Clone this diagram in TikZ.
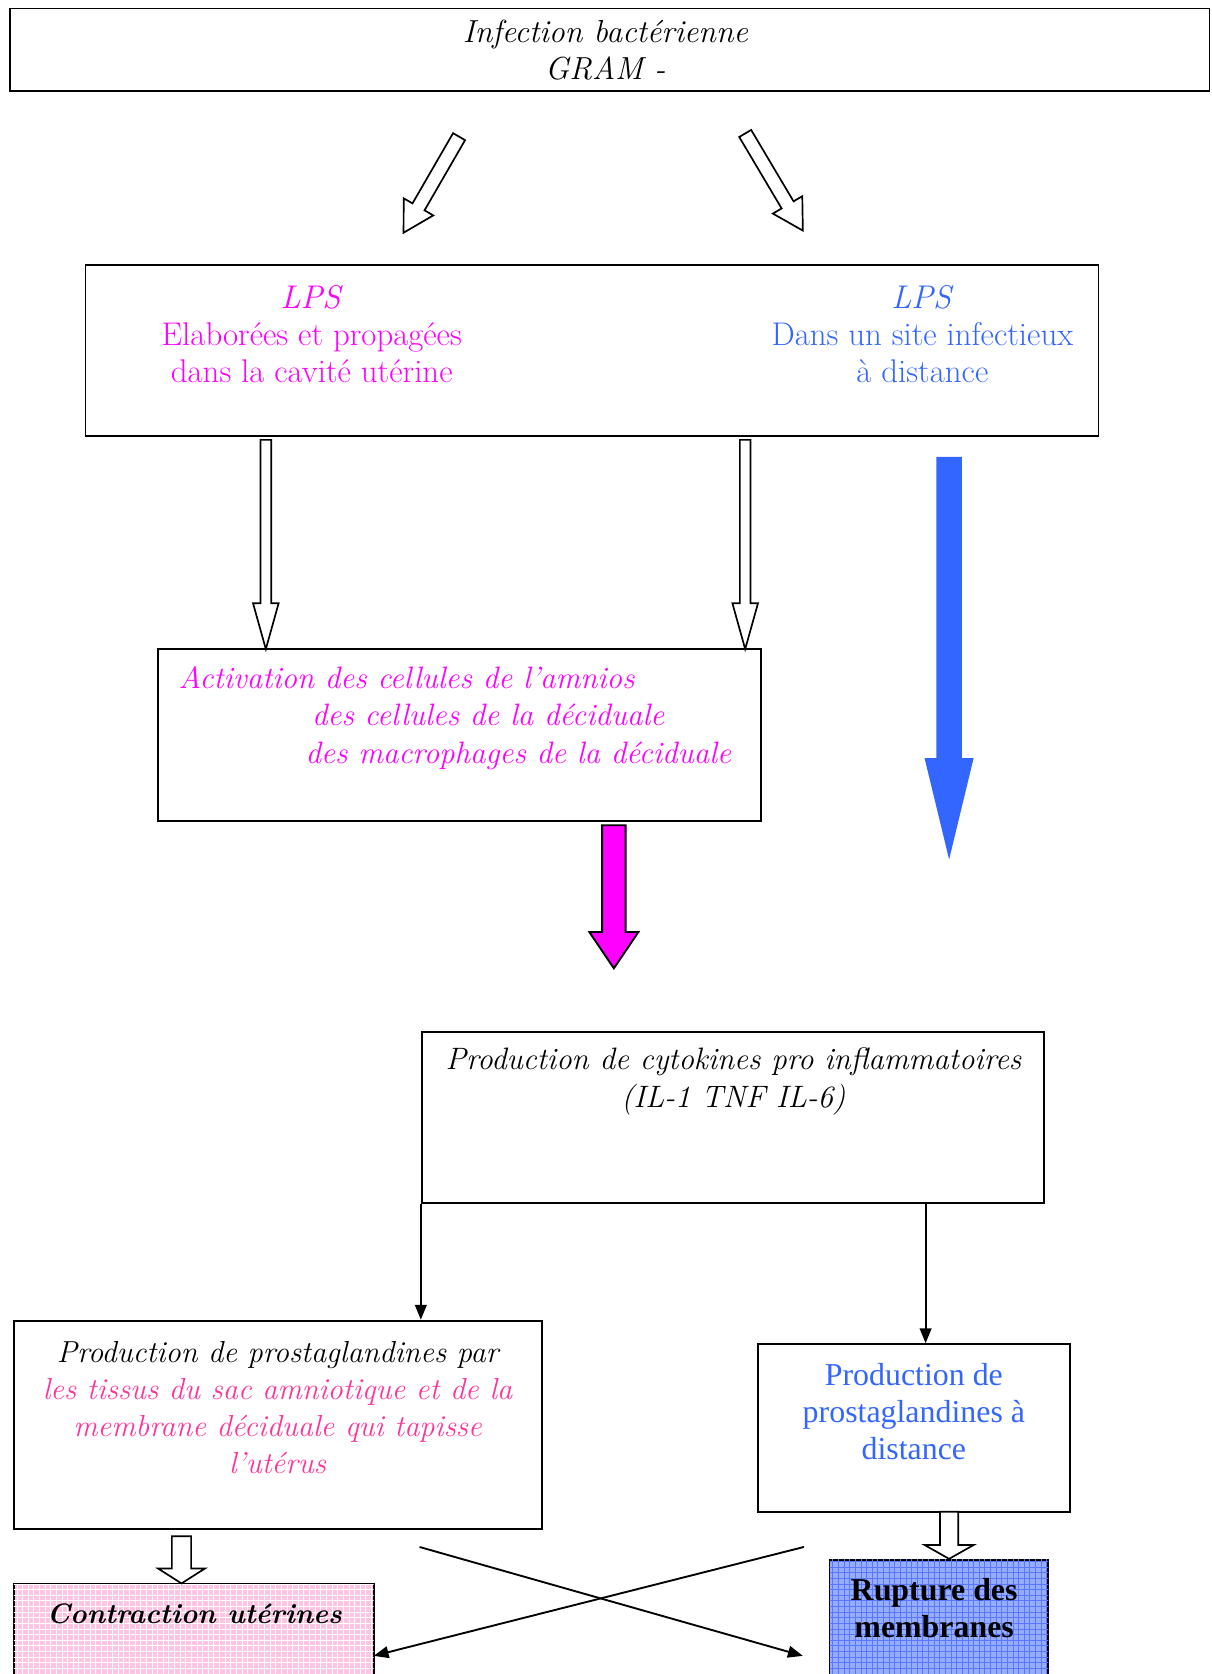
\documentclass[tikz,border=0pt]{standalone}
\usepackage{fontspec}
\newfontfamily\timesfont{Liberation Serif}
\usepackage{tikz}
\usetikzlibrary{arrows,arrows.meta,shapes,calc,patterns}

\definecolor{lpsmag}{RGB}{255,0,255}
\definecolor{lpsblue}{RGB}{51,102,255}
\definecolor{tissupink}{RGB}{255,51,153}
\definecolor{contrpink}{RGB}{255,196,228}
\definecolor{ruptblue}{RGB}{150,172,255}
\definecolor{ruptgrid}{RGB}{90,120,255}

% block arrow: [style]{from}{to}{shaft half width}{head half width}{head length}
\newcommand{\blockarrow}[6][draw]{%
	\coordinate (ba-h) at ($(#3)!#6!(#2)$);
	\path[#1] ($(#2)!#4!90:(#3)$) -- ($(ba-h)!#4!90:(#3)$) -- ($(ba-h)!#5!90:(#3)$) -- (#3)
		-- ($(ba-h)!#5!-90:(#3)$) -- ($(ba-h)!#4!-90:(#3)$) -- ($(#2)!#4!-90:(#3)$) -- cycle;}

\tikzset{
	box/.style={draw, line width=1pt, inner sep=0pt},
	txt/.style={align=center, inner sep=0pt, font=\fontsize{17.5}{19.85}\selectfont},
	ittxt/.style={txt, font=\fontsize{16.5}{19.85}\selectfont\itshape},
	hollow/.style={draw, line width=0.9pt, fill=white},
	thin/.style={line width=1pt, -{Triangle[length=0.28cm, width=0.22cm]}},
}

\begin{document}
\begin{tikzpicture}[x=0.02cm, y=-0.02cm]
	\useasboundingbox (0,0) rectangle (1135,1568);
	
	% boxes
	\node[box, minimum width=22.48cm, minimum height=1.54cm] (infect) at (571,46.5) {};
	\node[box, minimum width=18.98cm, minimum height=3.2cm] (lps) at (554.5,328) {};
	\node[box, minimum width=11.3cm, minimum height=3.22cm] (act) at (430.5,688.5) {};
	\node[box, minimum width=11.66cm, minimum height=3.2cm] (cyto) at (686.5,1047) {};
	\node[box, minimum width=9.9cm, minimum height=3.9cm] (prostL) at (260.5,1334.5) {};
	\node[box, minimum width=5.84cm, minimum height=3.14cm] (prostR) at (856,1337.5) {};
	\node[box, fill=contrpink, postaction={pattern=grid, pattern color=white},
		minimum width=6.74cm, minimum height=2.32cm] (contr) at (181.5,1542) {};
	\node[box, fill=ruptblue, postaction={pattern=grid, pattern color=ruptgrid},
		minimum width=4.1cm, minimum height=2.78cm] (rupt) at (879.5,1530.5) {};
	
	% texts
	\node[ittxt, font=\fontsize{17}{19.85}\selectfont\itshape] (infectT) at (567,47) {Infection bactérienne\\GRAM -};
	\node[txt, text=lpsmag] (lpsL) at (292,313) {\textit{LPS}\\Elaborées et propagées\\dans la cavité utérine};
	\node[txt, text=lpsblue] (lpsR) at (864,313) {\textit{LPS}\\Dans un site infectieux\\à distance};
	\node[ittxt, text=lpsmag, anchor=base west] (act1) at (167,645) {Activation des cellules de l’amnios};
	\node[ittxt, text=lpsmag, anchor=base west] (act2) at (292,680) {des cellules de la déciduale};
	\node[ittxt, text=lpsmag, anchor=base west] (act3) at (286,715) {des macrophages de la déciduale};
	\node[ittxt] (cytoT) at (687,1013) {Production de cytokines pro inflammatoires\\(IL-1 TNF IL-6)};
	\node[ittxt, font=\fontsize{16.2}{19.85}\selectfont\itshape] (prostLT) at (260,1318.5) {Production de prostaglandines par\\
		\textcolor{tissupink}{les tissus du sac amniotique et de la}\\
		\textcolor{tissupink}{membrane déciduale qui tapisse}\\
		\textcolor{tissupink}{l’utérus}};
	\node[txt, text=lpsblue, font=\fontsize{17}{19.85}\timesfont] (prostRT) at (856,1322) {Production de\\prostaglandines à\\distance};
	\node[txt, font=\fontsize{15}{19.85}\selectfont\bfseries\itshape] (contrT) at (182,1512) {Contraction utérines};
	\node[txt, font=\fontsize{17}{19.85}\timesfont\bfseries] (ruptT) at (875,1506) {Rupture des\\membranes};
	
	% arrow ends
	\coordinate (gL1) at (430,128);
	\coordinate (gL2) at (378,218);
	\coordinate (gR1) at (698,125);
	\coordinate (gR2) at (752,216);
	\coordinate (vL1) at (249,412);
	\coordinate (vL2) at (249,608);
	\coordinate (vR1) at (698,412);
	\coordinate (vR2) at (698,608);
	\coordinate (bl1) at (889,428);
	\coordinate (bl2) at (889,805);
	\coordinate (mg1) at (575,773);
	\coordinate (mg2) at (575,907);
	\coordinate (sL1) at (170,1439);
	\coordinate (sR1) at (889,1416);
	\coordinate (xL) at (393,1449);
	\coordinate (xR) at (753,1449);
	\coordinate (xLend) at (752,1551);
	\coordinate (xRend) at (350,1551);
	
	\blockarrow[hollow]{gL1}{gL2}{0.13cm}{0.32cm}{0.56cm}
	\blockarrow[hollow]{gR1}{gR2}{0.13cm}{0.32cm}{0.56cm}
	\blockarrow[hollow]{vL1}{vL2}{0.1cm}{0.24cm}{0.86cm}
	\blockarrow[hollow]{vR1}{vR2}{0.1cm}{0.24cm}{0.86cm}
	\blockarrow[fill=lpsblue]{bl1}{bl2}{0.24cm}{0.46cm}{1.9cm}
	\blockarrow[draw, line width=1pt, fill=lpsmag]{mg1}{mg2}{0.22cm}{0.46cm}{0.68cm}
	\blockarrow[hollow]{sL1}{contr.north -| sL1}{0.18cm}{0.44cm}{0.28cm}
	\blockarrow[hollow]{sR1}{rupt.north -| sR1}{0.17cm}{0.46cm}{0.26cm}
	
	% thin arrows
	\draw[thin] (cyto.south west) -- (cyto.south west |- prostL.north);
	\draw[thin] ([xshift=0.22cm]prostR.north |- cyto.south) -- ([xshift=0.22cm]prostR.north);
	\draw[thin] (xL) -- (xLend);
	\draw[thin] (xR) -- (xRend);
	
\end{tikzpicture}
\end{document}
